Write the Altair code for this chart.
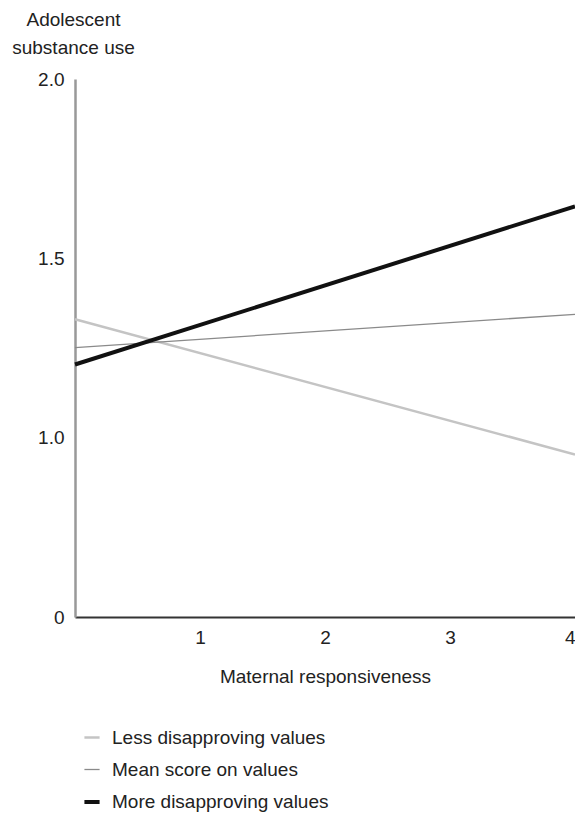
import altair as alt
import pandas as pd

responsiveness = [0, 4]
series_names = ["Less disapproving values", "Mean score on values", "More disapproving values"]
less_vals = [1.33, 0.953]
mean_vals = [1.251, 1.344]
more_vals = [1.204, 1.645]
y_ticks = [0.5, 1.0, 1.5, 2.0]
x_ticks = [1, 2, 3, 4]

rows = []
for i, (name, vals) in enumerate(zip(series_names, [less_vals, mean_vals, more_vals])):
    for x, y in zip(responsiveness, vals):
        rows.append({"resp": x, "use": y, "series": name, "k": i})
df = pd.DataFrame(rows)

FONT = "Liberation Sans"
FS = 19

legend = alt.Legend(title=None, orient="none", legendX=7, legendY=649,
                    symbolType="stroke", symbolSize=230,
                    labelFontSize=FS, labelFont=FONT, labelColor="#222",
                    labelLimit=400, rowPadding=12, labelOffset=10)

chart = alt.Chart(df).mark_line(strokeCap="butt").encode(
    x=alt.X("resp:Q", scale=alt.Scale(domain=[0, 4], nice=False),
            axis=alt.Axis(values=x_ticks, ticks=False, grid=False, labelFontSize=FS,
                          labelPadding=11, labelColor="#222", domainColor="#333",
                          domainWidth=2, title="Maternal responsiveness",
                          titleFontSize=FS, titleFontWeight="normal", titleColor="#222",
                          titlePadding=20, labelFont=FONT, titleFont=FONT)),
    y=alt.Y("use:Q", scale=alt.Scale(domain=[0.5, 2.0], nice=False, zero=False),
            axis=alt.Axis(values=y_ticks, ticks=False, grid=False, labelFontSize=FS,
                          labelPadding=11, labelColor="#222", domainColor="#999",
                          domainWidth=2.5,
                          labelExpr="datum.value == 0.5 ? '0' : format(datum.value, '.1f')",
                          title=["Adolescent", "substance use"], titleAngle=0,
                          titleAlign="center", titleBaseline="alphabetic",
                          titleX=-2, titleY=-54, titleLineHeight=28,
                          titleFontSize=FS, titleFontWeight="normal", titleColor="#222",
                          labelFont=FONT, titleFont=FONT)),
    color=alt.Color("series:N",
                    scale=alt.Scale(type="ordinal", domain=series_names,
                                    range=["#c4c4c4", "#8a8a8a", "#111111"]),
                    legend=legend),
    strokeWidth=alt.StrokeWidth("series:N",
                                scale=alt.Scale(type="ordinal", domain=series_names,
                                                range=[2.5, 1.3, 4]),
                                legend=legend),
    order=alt.Order("k:Q"),
).properties(
    width=500, height=538,
    autosize=alt.AutoSizeParams(type="none"),
    padding={"left": 67, "top": 71, "right": 0, "bottom": 195},
).configure_view(stroke=None)

chart.save("out.html", embed_options={"renderer": "svg", "actions": False})
